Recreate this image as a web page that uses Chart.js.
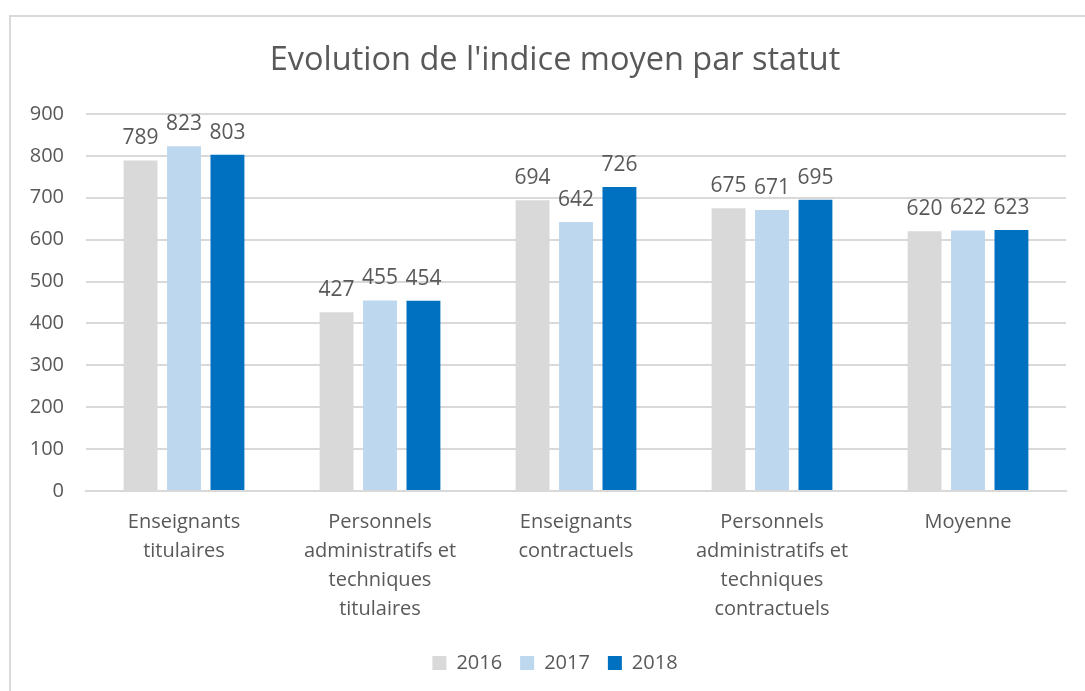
<!DOCTYPE html>
<html>
<head>
<meta charset="utf-8">
<script src="https://cdn.jsdelivr.net/npm/chart.js@4/dist/chart.umd.min.js"></script>
<style>
  html, body { margin: 0; padding: 0; background: #fff; overflow: hidden; }
  #wrap { position: relative; width: 1085px; height: 691px; }
  #frame { position: absolute; left: 9px; top: 15px; width: 1100px; height: 700px; border: 2px solid #d9d9d9; box-sizing: border-box; }
  canvas { position: absolute; left: 0; top: 0; }
</style>
</head>
<body>
<div id="wrap">
  <div id="frame"></div>
  <canvas id="chart" width="1085" height="691"></canvas>
</div>
<script>
// categories (multi-line labels) et séries
const categories = [
  ["Enseignants", "titulaires"],
  ["Personnels", "administratifs et", "techniques", "titulaires"],
  ["Enseignants", "contractuels"],
  ["Personnels", "administratifs et", "techniques", "contractuels"],
  ["Moyenne"]
];
const years = ["2016", "2017", "2018"];
const values2016 = [789, 427, 694, 675, 620];
const values2017 = [823, 455, 642, 671, 622];
const values2018 = [803, 454, 726, 695, 623];
const yTicks = [0, 100, 200, 300, 400, 500, 600, 700, 800, 900];

const colors = ["#d9d9d9", "#bdd7ee", "#0070c0"];
const FONT = "'Open Sans', sans-serif";
const TEXT = "#595959";

// étiquettes de valeurs au-dessus des barres
const valueLabels = {
  id: "valueLabels",
  afterDatasetsDraw(chart) {
    const ctx = chart.ctx;
    ctx.save();
    ctx.font = "21px " + FONT;
    ctx.fillStyle = TEXT;
    ctx.textAlign = "center";
    ctx.textBaseline = "alphabetic";
    chart.data.datasets.forEach((ds, i) => {
      chart.getDatasetMeta(i).data.forEach((bar, j) => {
        ctx.fillText(String(ds.data[j]), bar.x, bar.y - 16);
      });
    });
    ctx.restore();
  }
};

// titre et légende centrés sur le cadre (plus large que la zone visible)
const centerOnFrame = {
  id: "centerOnFrame",
  afterLayout(chart) {
    [chart.titleBlock, chart.legend].forEach((box) => {
      if (!box) return;
      box.left += 22;
      box.right += 22;
    });
  }
};

new Chart(document.getElementById("chart").getContext("2d"), {
  type: "bar",
  data: {
    labels: categories,
    datasets: [
      { label: years[0], data: values2016, backgroundColor: colors[0] },
      { label: years[1], data: values2017, backgroundColor: colors[1] },
      { label: years[2], data: values2018, backgroundColor: colors[2] }
    ]
  },
  options: {
    responsive: false,
    animation: false,
    devicePixelRatio: 1,
    categoryPercentage: 0.665,
    barPercentage: 0.78,
    layout: { padding: { left: 0, right: 19, top: 41, bottom: 8 } },
    plugins: {
      title: {
        display: true,
        text: "Evolution de l'indice moyen par statut",
        color: TEXT,
        font: { family: FONT, size: 32.5, weight: "normal" },
        padding: { top: 0, bottom: 34 }
      },
      legend: {
        position: "bottom",
        labels: {
          color: TEXT,
          font: { family: FONT, size: 20 },
          boxWidth: 14,
          boxHeight: 14,
          padding: 18
        }
      },
      tooltip: { enabled: false }
    },
    scales: {
      x: {
        afterFit(axis) { axis.height -= 6; },
        grid: { display: false, drawTicks: false },
        border: { color: "#d9d9d9", width: 2 },
        ticks: {
          color: TEXT,
          font: { family: FONT, size: 20, lineHeight: 1.45 },
          maxRotation: 0,
          autoSkip: false,
          padding: 17
        }
      },
      y: {
        min: 0,
        max: 900,
        afterBuildTicks(axis) { axis.ticks = yTicks.map(v => ({ value: v })); },
        afterFit(axis) { axis.width = 86; },
        grid: { color: "#d9d9d9", lineWidth: 2, drawTicks: false },
        border: { display: false },
        ticks: {
          color: TEXT,
          font: { family: FONT, size: 20 },
          padding: 22
        }
      }
    }
  },
  plugins: [valueLabels, centerOnFrame]
});
</script>
</body>
</html>
